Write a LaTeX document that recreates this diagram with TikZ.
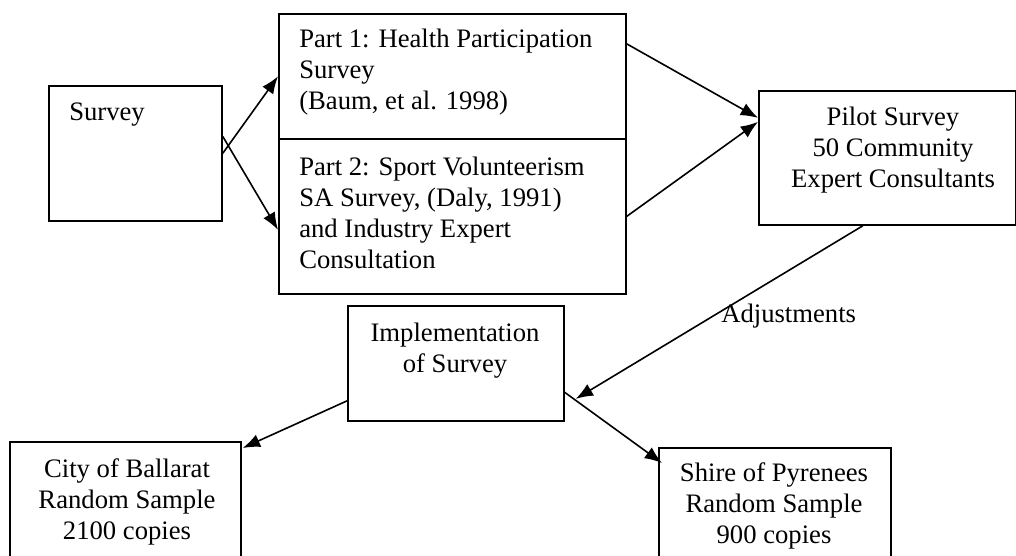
\documentclass[tikz,border=0pt]{standalone}
\usepackage{fontspec}
\setmainfont{Liberation Serif}
\usetikzlibrary{arrows.meta,calc}
\begin{document}
\begin{tikzpicture}[x=0.75pt,y=-0.75pt,
  box/.style={draw=black,line width=1.3pt,inner sep=0pt,anchor=north west},
  txt/.style={inner sep=0pt,font=\fontsize{20}{23.25}\selectfont},
  conn/.style={line width=1.2pt,-{Latex[length=13pt,width=10pt]}}]
\useasboundingbox (0,0) rectangle (1016,556);
\clip (0,0) rectangle (1016,556);
\fill[white] (0,0) rectangle (1016,556);
% boxes
\node[box,minimum width=173*0.75pt,minimum height=135*0.75pt] (survey) at (48,85) {};
\node[box,minimum width=347*0.75pt,minimum height=125*0.75pt] (part1) at (278,13) {};
\node[box,minimum width=347*0.75pt,minimum height=155*0.75pt] (part2) at (278,138) {};
\node[box,minimum width=257*0.75pt,minimum height=134*0.75pt] (pilot) at (758,90) {};
\node[box,minimum width=216*0.75pt,minimum height=115*0.75pt] (impl) at (347,305) {};
\node[box,minimum width=231*0.75pt,minimum height=125*0.75pt] (city) at (9,441) {};
\node[box,minimum width=232*0.75pt,minimum height=125*0.75pt] (shire) at (658,447) {};
% texts (base = baseline of last line)
\node[txt,anchor=base west] (tsurvey) at (69,121) {Survey};
\node[txt,anchor=base west,align=left] (tpart1) at (299,110) {Part 1: Health Participation\\Survey\\(Baum, et al. 1998)};
\node[txt,anchor=base west,align=left] (tpart2) at (299,268) {Part 2: Sport Volunteerism\\SA Survey, (Daly, 1991)\\and Industry Expert\\Consultation};
\node[txt,anchor=base,align=center] (tpilot) at (893,187) {Pilot Survey\\50 Community\\Expert Consultants};
\node[txt,anchor=base,align=center] (timpl) at (455,372) {Implementation\\of Survey};
\node[txt,anchor=base,align=center] (tcity) at (127,539) {City of Ballarat\\Random Sample\\2100 copies};
\node[txt,anchor=base,align=center] (tshire) at (774,543) {Shire of Pyrenees\\Random Sample\\900 copies};
\node[txt,anchor=base west] (adj) at (721,322) {Adjustments};
% connectors
\draw[conn] (survey.east) -- (part1.west);
\draw[conn] ($(survey.east)+(0,-17)$) -- ($(part2.west)+(0,13.5)$);
\draw[conn] ($(part1.east)+(0,-32.5)$) -- ($(pilot.west)+(0,-40)$);
\draw[conn] (part2.east) -- ($(pilot.west)+(0,-36)$);
\draw[conn] ($(pilot.south)+(-24.5,0)$) -- ($(impl.east)+(11,35.5)$);
\draw[conn] ($(impl.west)+(0,37.5)$) -- ($(city.north east)+(1,7)$);
\draw[conn] ($(impl.east)+(0,29)$) -- ($(shire.north west)+(4,16)$);
\end{tikzpicture}
\end{document}
